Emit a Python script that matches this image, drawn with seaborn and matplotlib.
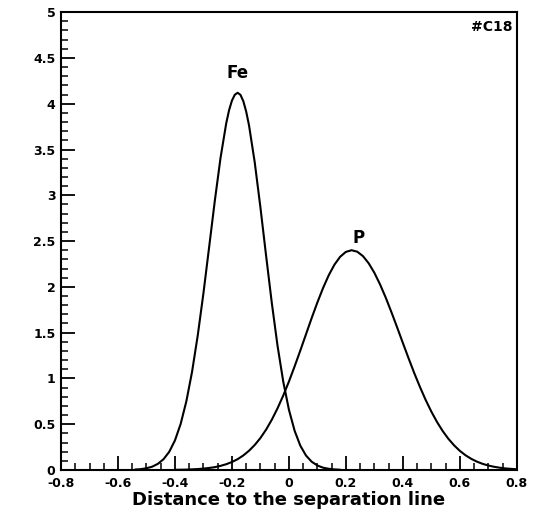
import numpy as np
import pandas as pd
import matplotlib
matplotlib.use("Agg")
import matplotlib.pyplot as plt
import matplotlib.transforms as mtransforms
from matplotlib.ticker import MultipleLocator, FuncFormatter
import seaborn as sns

# ---- data ----
fe_x = [-0.54, -0.52, -0.50, -0.48, -0.46, -0.44, -0.42, -0.40, -0.38, -0.36,
        -0.34, -0.32, -0.30, -0.28, -0.26, -0.24, -0.22, -0.21, -0.20, -0.19,
        -0.18, -0.17, -0.16, -0.15, -0.14, -0.12, -0.10, -0.08, -0.06, -0.04,
        -0.02, 0.00, 0.02, 0.04, 0.06, 0.08, 0.10, 0.12, 0.14, 0.16, 0.18]
fe_y = [0.005, 0.009, 0.019, 0.036, 0.067, 0.118, 0.199, 0.323, 0.503, 0.750,
        1.072, 1.470, 1.931, 2.435, 2.942, 3.409, 3.787, 3.930, 4.034, 4.098,
        4.120, 4.097, 4.028, 3.915, 3.764, 3.361, 2.868, 2.339, 1.824, 1.359,
        0.968, 0.659, 0.429, 0.266, 0.158, 0.090, 0.049, 0.025, 0.013, 0.006,
        0.003]

p_x = np.round(np.arange(-0.40, 0.8001, 0.02), 2)
p_y = [0.002, 0.003, 0.004, 0.007, 0.010, 0.015, 0.022, 0.031, 0.045, 0.063,
       0.087, 0.118, 0.159, 0.210, 0.273, 0.349, 0.441, 0.549, 0.673, 0.812,
       0.965, 1.131, 1.304, 1.482, 1.660, 1.830, 1.988, 2.128, 2.243, 2.329,
       2.382, 2.400,
       2.384, 2.336, 2.258, 2.154, 2.027, 1.882, 1.723, 1.557, 1.388, 1.221,
       1.059, 0.907, 0.766, 0.638, 0.524, 0.425, 0.340, 0.269, 0.209, 0.161,
       0.122, 0.091, 0.067, 0.049, 0.035, 0.025, 0.017, 0.012, 0.008]

x_label = "Distance to the separation line"
curve_labels = ["Fe", "P"]
corner_text = "#C18"

sns.set_style("white")
plt.rcParams['font.family'] = ['DejaVu Sans']
plt.rcParams['text.color'] = 'black'
plt.rcParams['axes.labelcolor'] = 'black'
plt.rcParams['xtick.color'] = 'black'
plt.rcParams['ytick.color'] = 'black'

fig = plt.figure(figsize=(5.4, 5.25), dpi=100)
ax = fig.add_axes([0.113, 0.1048, 0.844, 0.872])

df_fe = pd.DataFrame({"x": fe_x, "y": fe_y})
df_p = pd.DataFrame({"x": p_x, "y": p_y})
sns.lineplot(data=df_fe, x="x", y="y", ax=ax, color="black", lw=1.5, sort=False)
sns.lineplot(data=df_p, x="x", y="y", ax=ax, color="black", lw=1.5, sort=False)

ax.set_xlim(-0.8, 0.8)
ax.set_ylim(0, 5)

ax.xaxis.set_major_locator(MultipleLocator(0.2))
ax.xaxis.set_minor_locator(MultipleLocator(0.05))
ax.yaxis.set_major_locator(MultipleLocator(0.5))
ax.yaxis.set_minor_locator(MultipleLocator(0.1))
fmt = FuncFormatter(lambda v, pos: "%g" % round(v, 2))
ax.xaxis.set_major_formatter(fmt)
ax.yaxis.set_major_formatter(fmt)

ax.tick_params(axis="both", which="major", direction="in", length=10, width=1.3,
               labelsize=9, top=False, right=False, bottom=True, left=True, pad=4,
               colors="black")
ax.tick_params(axis="x", which="major", pad=5)
ax.tick_params(axis="both", which="minor", direction="in", length=5, width=1.1,
               top=False, right=False, bottom=True, left=True, colors="black")

fig.canvas.draw()
for lab in ax.get_xticklabels() + ax.get_yticklabels():
    lab.set_fontweight("bold")
    lab.set_color("black")
# nudge the y "0" label up a little so it clears the x "-0.8" label
ylabs = ax.get_yticklabels()
if ylabs:
    off = mtransforms.ScaledTranslation(0, 6 / 72.0, fig.dpi_scale_trans)
    ylabs[0].set_transform(ylabs[0].get_transform() + off)

for s in ax.spines.values():
    s.set_visible(True)
    s.set_color("black")
    s.set_linewidth(1.5)

ax.set_xlabel(x_label, fontsize=13, fontweight="bold", labelpad=1, color="black")
ax.set_ylabel("")

ax.text(-0.18, 4.34, curve_labels[0], ha="center", va="center",
        fontsize=12, fontweight="bold", color="black")
ax.text(0.245, 2.53, curve_labels[1], ha="center", va="center",
        fontsize=12, fontweight="bold", color="black")
ax.text(0.785, 4.84, corner_text, ha="right", va="center",
        fontsize=10, fontweight="bold", color="black")

fig.savefig("out.png", dpi=100)
